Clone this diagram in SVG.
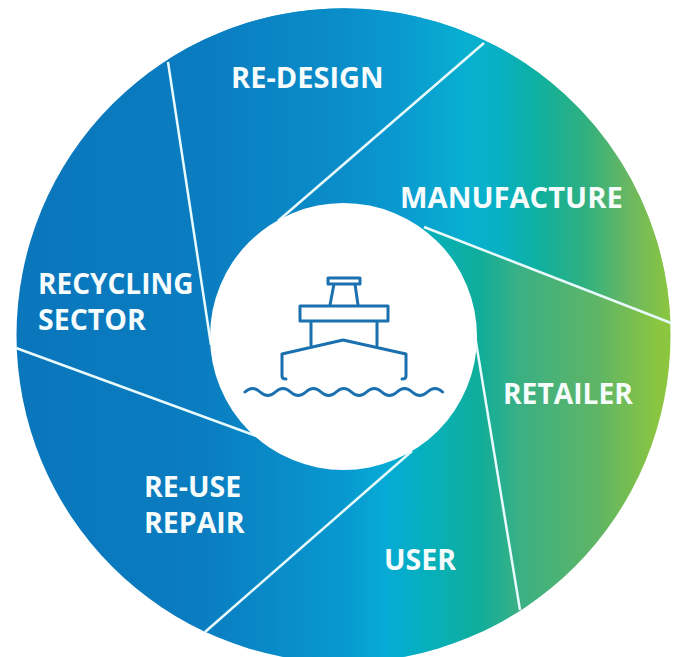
<svg xmlns="http://www.w3.org/2000/svg" width="677" height="657" viewBox="0 0 677 657">
<defs>
<linearGradient id="g" gradientUnits="userSpaceOnUse" x1="15" y1="330" x2="670" y2="330">
<stop offset="0" stop-color="#0a76bb"/><stop offset="0.28" stop-color="#0a7cc0"/><stop offset="0.5" stop-color="#0898cf"/><stop offset="0.565" stop-color="#06aad6"/><stop offset="0.63" stop-color="#06b0bc"/><stop offset="0.71" stop-color="#10ad9a"/><stop offset="0.77" stop-color="#3ab084"/><stop offset="0.89" stop-color="#5fb565"/><stop offset="0.985" stop-color="#8cc63f"/>
</linearGradient>
<linearGradient id="g2" gradientUnits="userSpaceOnUse" x1="15" y1="330" x2="670" y2="330">
<stop offset="0" stop-color="#0a76bb"/><stop offset="0.28" stop-color="#0a7cc0"/><stop offset="0.5" stop-color="#0a8dc9"/><stop offset="0.59" stop-color="#0a9ad0"/><stop offset="0.69" stop-color="#08b0d0"/><stop offset="0.74" stop-color="#08b0c4"/><stop offset="0.797" stop-color="#0eb0a0"/><stop offset="0.87" stop-color="#2fb080"/><stop offset="0.94" stop-color="#6cb860"/><stop offset="1" stop-color="#8cc63f"/>
</linearGradient>
<style>
text{font-family:"Open Sans","Noto Sans",sans-serif;font-weight:700;font-size:28.5px;fill:#f6fcfc}
.l{stroke:#e8fafc;stroke-width:2.5;fill:none}
.i{stroke:#1b70b0;stroke-width:3;fill:none;stroke-linejoin:round;stroke-linecap:round}
</style>
</defs>
<rect width="677" height="657" fill="#fff"/>
<g id="wheel"><circle cx="343.5" cy="335.5" r="327" fill="url(#g)"/>
<path d="M168 59.500A327 327 0 0 1 670.500 323L424 227L343 336L211 345Z" fill="url(#g2)"/></g>
<g id="connectors">
<path class="l" d="M168 62L211 345"/><path class="l" d="M484 43L278 221"/><path class="l" d="M671 323L424 227"/><path class="l" d="M520 610L474 330"/><path class="l" d="M205 632L412 451"/><path class="l" d="M16 348L262 438"/>
</g>
<g id="hub"><circle cx="343.5" cy="336.5" r="133.5" fill="#fff"/>
<path class="i" d="M328 278H360V284H328ZM334 284L330 305M355 284L358 305M300 306H388V321H300ZM311 321V345M377 321V345M282 354L343 340L406 354V376Q406 379 402 379M282 354V376Q282 379 286 379"/>
<path class="i" d="M245 392q7.600 -7 15.200 0t15.200 0t15.200 0t15.200 0t15.200 0t15.200 0t15.200 0t15.200 0t15.200 0t15.200 0t15.200 0t15.200 0t15.200 0"/>
</g>
<g id="re-design"><text x="231" y="88" style="font-size:29px">RE-DESIGN</text></g>
<g id="manufacture"><text x="400" y="208" style="font-size:29.2px">MANUFACTURE</text></g>
<g id="retailer"><text x="503" y="404" style="font-size:28.2px">RETAILER</text></g>
<g id="user"><text x="384" y="570">USER</text></g>
<g id="re-use-repair"><text x="144" y="497">RE-USE</text><text x="144" y="533">REPAIR</text></g>
<g id="recycling-sector"><text x="38" y="294" style="font-size:28px">RECYCLING</text><text x="38" y="330">SECTOR</text></g>
</svg>
